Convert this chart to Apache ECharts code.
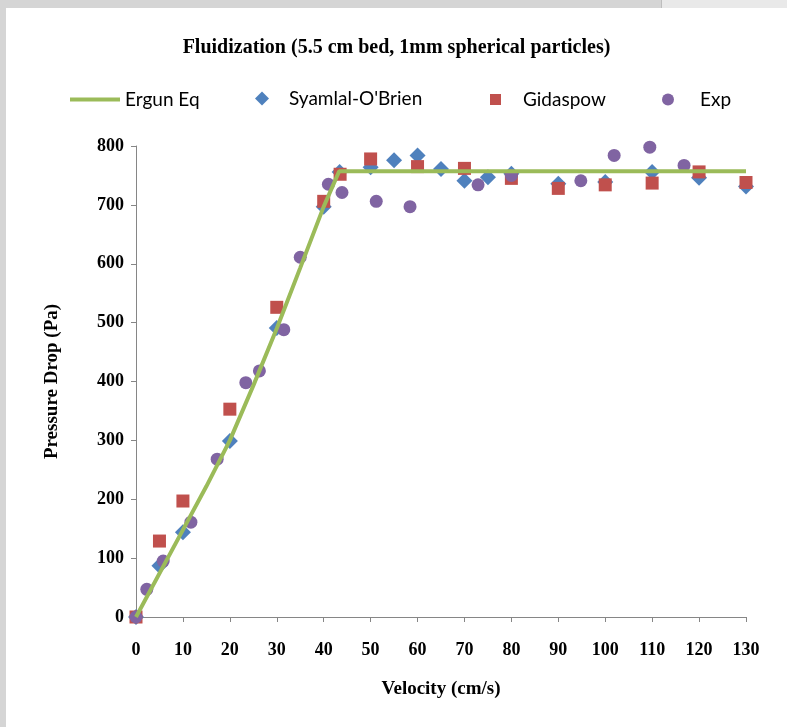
<!DOCTYPE html>
<html>
<head>
<meta charset="utf-8">
<style>
	body{
		margin: 0;
		background: #d5d5d5;
	}
	#topRight{
		position: absolute;
		left: 661px;
		top: 0;
		width: 126px;
		height: 8px;
		background: #e9e9e9;
		border-left: 1px solid #bdbdbd;
	}
	#main{
		position: absolute;
		left: 6px;
		top: 8px;
		width: 781px;
		height: 719px;
		background: #ffffff;
	}
</style>
<script src="https://cdn.jsdelivr.net/npm/echarts@6/dist/echarts.min.js"></script>
</head>
<body>
<div id="topRight"></div>
<div id="main"></div>
<script>
	// Ergun equation curve
	var ergunData = [[0,0],[10,148],[15,222],[20,300],[25,393],[30,490],[35,593],[40,697],[43.3,757],[130,757]];
	// Syamlal-O'Brien
	var syamlalData = [[0,0],[5,87],[10,144],[20,299],[30,491],[40,697],[43.4,756],[50,764],[55,776],[60,784],
		[65,761],[70,741],[75,747],[80,753],[90,736],[100,739],[110,756],[120,746],[130,731]];
	// Gidaspow
	var gidaspowData = [[0,0],[5,129],[10,197],[20,353],[30,526],[40,706],[43.5,752],[50,778],[60,765],[70,762],
		[80,745],[90,728],[100,734],[110,737],[120,756],[130,738]];
	// Exp
	var expData = [[0,0],[2.3,47],[5.8,95],[11.7,161],[17.3,268],[23.4,398],[26.3,418],[31.5,488],[35,611],
		[41,735],[43.9,721],[51.2,706],[58.4,697],[72.9,734],[80,750],[94.8,741],[101.9,784],[109.5,798],[116.8,767]];

	var serif = '"Liberation Serif", "Times New Roman", serif';
	var sans = 'Lato, "Noto Sans", sans-serif';
	var axisGray = '#868686';

	function legendText(padLeft){
		return {fontFamily: sans, fontSize: 19, color: '#000', padding: [0, 0, 0, padLeft]};
	}

	var myChart = echarts.init(document.getElementById("main"));
	var option = {
		animation: false,
		title: {
			text: 'Fluidization (5.5 cm bed, 1mm spherical particles)',
			left: 'center',
			top: 25,
			textStyle: {fontFamily: serif, fontSize: 20, fontWeight: 'bold', color: '#000'}
		},
		legend: [
			{data: [{name: 'Ergun Eq', icon: 'rect'}], left: 64, top: 82, padding: 0, itemWidth: 50, itemHeight: 4, textStyle: legendText(0)},
			{data: [{name: 'Syamlal-O\'Brien', icon: 'diamond'}], left: 249, top: 81, padding: 0, itemWidth: 14, itemHeight: 14, textStyle: legendText(15)},
			{data: [{name: 'Gidaspow', icon: 'rect'}], left: 484, top: 82, padding: 0, itemWidth: 11, itemHeight: 11, textStyle: legendText(17)},
			{data: [{name: 'Exp', icon: 'circle'}], left: 656, top: 82, padding: 0, itemWidth: 12, itemHeight: 12, textStyle: legendText(21)}
		],
		grid: {
			left: 130,
			right: 41,
			top: 138,
			bottom: 110
		},
		xAxis: {
			type: 'value',
			min: 0,
			max: 130,
			interval: 10,
			name: 'Velocity (cm/s)',
			nameLocation: 'middle',
			nameGap: 63,
			nameTextStyle: {fontFamily: serif, fontSize: 19, fontWeight: 'bold', color: '#000'},
			splitLine: {show: false},
			axisLine: {lineStyle: {color: axisGray}},
			axisTick: {length: 5, lineStyle: {color: axisGray}},
			axisLabel: {margin: 24, fontFamily: serif, fontSize: 18, fontWeight: 'bold', color: '#000'}
		},
		yAxis: {
			type: 'value',
			min: 0,
			max: 800,
			interval: 100,
			name: 'Pressure Drop (Pa)',
			nameLocation: 'middle',
			nameGap: 74,
			nameTextStyle: {fontFamily: serif, fontSize: 19, fontWeight: 'bold', color: '#000'},
			splitLine: {show: false},
			axisLine: {show: true, lineStyle: {color: axisGray}},
			axisTick: {show: true, length: 5, lineStyle: {color: axisGray}},
			axisLabel: {margin: 12, fontFamily: serif, fontSize: 18, fontWeight: 'bold', color: '#000'}
		},
		series: [
			{
				name: 'Ergun Eq',
				type: 'line',
				data: ergunData,
				symbol: 'none',
				lineStyle: {color: '#9bbb59', width: 4},
				itemStyle: {color: '#9bbb59'}
			},
			{
				name: 'Syamlal-O\'Brien',
				type: 'scatter',
				data: syamlalData,
				symbol: 'diamond',
				symbolSize: 16,
				itemStyle: {color: '#4f81bd', opacity: 1}
			},
			{
				name: 'Gidaspow',
				type: 'scatter',
				data: gidaspowData,
				symbol: 'rect',
				symbolSize: 13,
				itemStyle: {color: '#c0504d', opacity: 1}
			},
			{
				name: 'Exp',
				type: 'scatter',
				data: expData,
				symbol: 'circle',
				symbolSize: 13,
				itemStyle: {color: '#8064a2', opacity: 1}
			}
		]
	};
	myChart.setOption(option);
</script>
</body>
</html>
